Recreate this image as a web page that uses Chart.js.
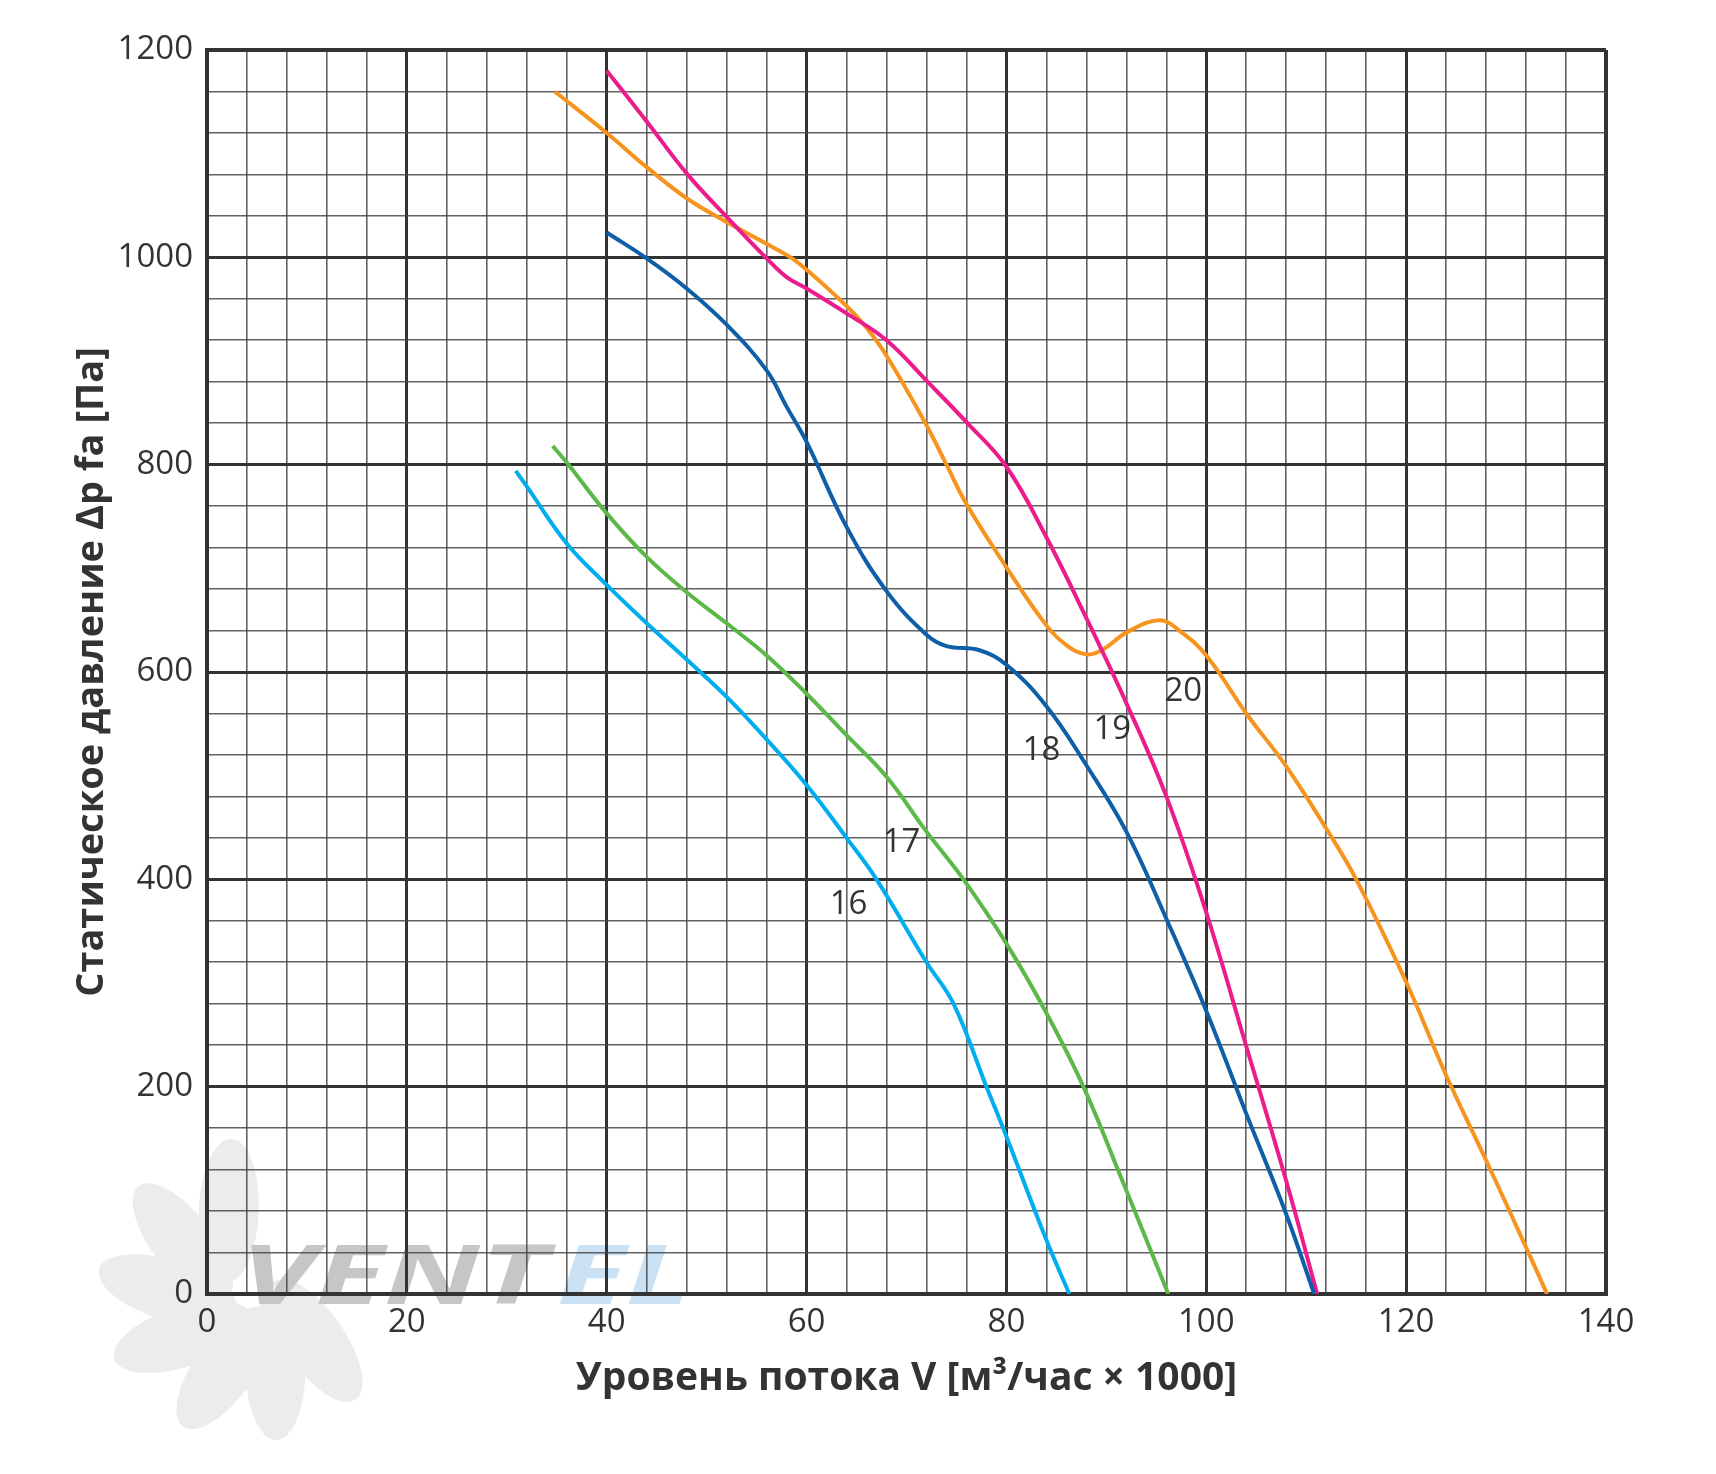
<!DOCTYPE html>
<html>
<head>
<meta charset="utf-8">
<script src="https://cdn.jsdelivr.net/npm/chart.js@4.4.1/dist/chart.umd.min.js"></script>
<style>
    html, body { margin: 0; padding: 0; background: #fff; }
</style>
</head>
<body>
<canvas id="grafica-ventilador" width="1716" height="1474"></canvas>
<script>
// Curvas de presión estática por modelo (caudal x1000 m3/h, presión Pa)
const flujo16 = [30.9, 32, 36, 40, 44, 48, 52, 56, 60, 64, 67, 72, 74.7, 78, 80, 84, 86.3];
const presion16 = [794, 779, 724, 684, 647, 612, 576, 535, 491, 440, 400, 320, 280, 200, 152, 52, 0];

const flujo17 = [34.6, 36.1, 40, 44, 48, 52, 56, 60, 64, 68, 72, 75.7, 80, 84, 87.7, 91.7, 96.2];
const presion17 = [818, 801, 753, 711, 677, 647, 616, 579, 539, 499, 446, 400, 338, 271, 200, 107, 0];

const flujo18 = [40, 44, 48, 52, 56, 58, 60, 64, 68, 72, 74, 77.3, 80, 84, 88, 92, 96, 100, 104, 108, 110.8];
const presion18 = [1024, 999, 970, 935, 891, 856, 822, 740, 678, 636, 625, 621, 607, 567, 510, 446, 362, 273, 174, 77, 0];

const flujo19 = [40, 44, 48, 52, 56, 58, 60, 64, 68, 72, 76, 80, 84, 88, 92, 96, 100, 104, 108, 111.1];
const presion19 = [1180, 1131, 1081, 1039, 999, 981, 970, 946, 920, 881, 841, 798, 730, 652, 570, 480, 368, 239, 109, 0];

const flujo20 = [34.8, 40, 44, 48, 52, 56, 58.4, 60, 64, 66, 68, 72, 74, 76, 80, 84, 86, 88, 89.7, 92, 95.3, 97.3, 100, 104, 108, 112, 115, 120, 124, 128, 132, 134.1];
const presion20 = [1160, 1120, 1087, 1057, 1034, 1013, 1000, 988, 953, 932, 905, 838, 800, 762, 701, 645, 626, 617, 622, 638, 650, 640, 616, 560, 509, 449, 400, 301, 211, 129, 45, 0];

const modelos = ['16', '17', '18', '19', '20'];
const colores = ['#00aeef', '#5cb848', '#0f5ea8', '#ec1c8c', '#f7941d'];

// Donde va el número de cada curva (en unidades de los ejes)
const etiquetaX = [64.2, 69.5, 83.5, 90.6, 97.7];
const etiquetaY = [376, 435, 524, 544, 581];

const fuente = "'Open Sans', 'Noto Sans', sans-serif";

function unirPuntos(xs, ys) {
    return xs.map(function (x, i) {
        return { x: x, y: ys[i] };
    });
}

const series = [
    unirPuntos(flujo16, presion16),
    unirPuntos(flujo17, presion17),
    unirPuntos(flujo18, presion18),
    unirPuntos(flujo19, presion19),
    unirPuntos(flujo20, presion20)
];

function esMayor(ctx, paso) {
    return ctx.tick && Math.round(ctx.tick.value) % paso === 0;
}

// Marca de agua (ventilador + texto) detrás de la cuadrícula
const marcaAgua = {
    id: 'marcaAgua',
    beforeDraw: function (chart) {
        const c = chart.ctx;
        const cx = 250, cy = 1290;
        const angulos = [-105, -145, 180, 145, 108, 72, 38];
        c.save();
        c.fillStyle = '#ececec';
        angulos.forEach(function (a) {
            const r = a * Math.PI / 180;
            c.beginPath();
            c.ellipse(cx + 82 * Math.cos(r), cy + 82 * Math.sin(r), 72, 30, r + 0.3, 0, Math.PI * 2);
            c.fill();
        });
        c.font = "italic bold 82px " + fuente;
        c.textBaseline = 'alphabetic';
        c.translate(240, 1304);
        c.scale(1.55, 1);
        c.fillStyle = '#c6c6c6';
        c.fillText('VENT', 0, 0);
        const ancho = c.measureText('VENT').width;
        c.fillStyle = '#cbe2f4';
        c.fillText('EL', ancho + 6, 0);
        c.restore();
    }
};

const numerosCurvas = {
    id: 'numerosCurvas',
    afterDatasetsDraw: function (chart) {
        const c = chart.ctx;
        const sx = chart.scales.x, sy = chart.scales.y;
        c.save();
        c.font = "33px " + fuente;
        c.fillStyle = '#333';
        c.textAlign = 'center';
        c.textBaseline = 'middle';
        modelos.forEach(function (m, i) {
            c.fillText(m, sx.getPixelForValue(etiquetaX[i]), sy.getPixelForValue(etiquetaY[i]));
        });
        c.restore();
    }
};

new Chart(document.getElementById('grafica-ventilador').getContext('2d'), {
    type: 'line',
    data: {
        datasets: modelos.map(function (m, i) {
            return {
                label: m,
                data: series[i],
                borderColor: colores[i],
                borderWidth: 4,
                pointRadius: 0,
                fill: false,
                tension: 0.4
            };
        })
    },
    options: {
        responsive: false,
        animation: false,
        layout: { padding: { left: 0, top: 50, right: 110, bottom: 0 } },
        plugins: {
            legend: { display: false },
            tooltip: { enabled: false }
        },
        scales: {
            x: {
                type: 'linear',
                min: 0,
                max: 140,
                ticks: {
                    stepSize: 4,
                    autoSkip: false,
                    maxRotation: 0,
                    padding: 9,
                    color: '#333',
                    font: { family: fuente, size: 33 },
                    callback: function (v) { return Math.round(v) % 20 === 0 ? v : ''; }
                },
                grid: {
                    drawTicks: false,
                    color: function (ctx) { return esMayor(ctx, 20) ? '#333' : 'rgba(70,70,70,0.85)'; },
                    lineWidth: function (ctx) {
                        if (ctx.tick && ctx.tick.value === 140) return 4;
                        return esMayor(ctx, 20) ? 3 : 1.6;
                    }
                },
                border: { display: true, color: '#333', width: 4 },
                title: {
                    display: true,
                    text: 'Уровень потока V [м³/час × 1000]',
                    color: '#333',
                    font: { family: fuente, size: 39, weight: 'bold' },
                    padding: { top: 0, bottom: 72 }
                },
                afterFit: function (s) { s.height = 180; }
            },
            y: {
                type: 'linear',
                min: 0,
                max: 1200,
                ticks: {
                    stepSize: 40,
                    autoSkip: false,
                    padding: 14,
                    color: '#333',
                    font: { family: fuente, size: 33 },
                    callback: function (v) { return Math.round(v) % 200 === 0 ? v : ''; }
                },
                grid: {
                    drawTicks: false,
                    color: function (ctx) { return esMayor(ctx, 200) ? '#333' : 'rgba(70,70,70,0.85)'; },
                    lineWidth: function (ctx) {
                        if (ctx.tick && ctx.tick.value === 1200) return 4;
                        return esMayor(ctx, 200) ? 3 : 1.6;
                    }
                },
                border: { display: true, color: '#333', width: 4 },
                title: {
                    display: true,
                    text: 'Статическое давление Δp fa [Па]',
                    color: '#333',
                    font: { family: fuente, size: 38, weight: 'bold' },
                    padding: { top: 69, bottom: 0 }
                },
                afterFit: function (s) { s.width = 207; }
            }
        }
    },
    plugins: [marcaAgua, numerosCurvas]
});
</script>
</body>
</html>
